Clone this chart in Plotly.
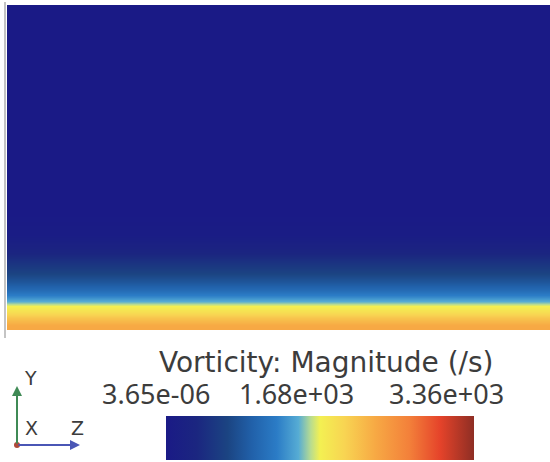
import plotly.graph_objects as go

# ---- data ----
x_coords = [0.0, 0.5, 1.0]
y_coords = [0.0, 0.015, 0.037, 0.055, 0.074, 0.086, 0.102, 0.123, 0.148,
            0.178, 0.215, 0.252, 0.292, 0.354, 0.5, 1.0]
vorticity_profile = [2300, 2280, 2080, 1850, 1680, 1480, 1280, 1040, 840,
                     640, 440, 235, 70, 10, 0.001, 3.65e-06]
cmin, cmax = 3.65e-06, 3360.0
tick_labels = ["3.65e-06", "1.68e+03", "3.36e+03"]
cbar_title = "Vorticity: Magnitude (/s)"
triad_labels = ["Y", "X", "Z"]

colorscale = [
    [0.0, "#1a1a86"], [0.10, "#1b2680"], [0.20, "#1b4482"], [0.28, "#2161aa"],
    [0.36, "#2b7cc6"], [0.43, "#56acd4"], [0.47, "#b8dc90"], [0.50, "#f3f052"],
    [0.58, "#f8d452"], [0.68, "#f7a944"], [0.79, "#f3803a"], [0.89, "#e5432a"],
    [1.0, "#8e2e24"],
]

z = [[v for _ in x_coords] for v in vorticity_profile]

W, H = 550, 462
ml, mr, mt, mb = 7, 0, 5, 132
pw, ph = W - ml - mr, H - mt - mb


def px(xp):
    return (xp - ml) / pw


def py(yp):
    return (H - mb - yp) / ph


fig = go.Figure(go.Heatmap(
    x=x_coords, y=y_coords, z=z, zsmooth="best",
    colorscale=colorscale, zmin=cmin, zmax=cmax,
    colorbar=dict(
        orientation="h", thickness=44, thicknessmode="pixels",
        len=308, lenmode="pixels",
        x=px(166), xanchor="left", y=py(460), yanchor="bottom",
        xpad=0, ypad=0, outlinewidth=0, showticklabels=False, ticks="",
    ),
))

txt_color = "#3c3c3c"


def label(text, cx, cy, size, family):
    return dict(x=px(cx), y=py(cy), xref="paper", yref="paper", text=text,
                showarrow=False, xanchor="center", yanchor="middle",
                font=dict(family=family, size=size, color=txt_color))


annotations = [label(cbar_title, 326, 362, 28, "DejaVu Sans")]
for lab, cx in zip(tick_labels, [156, 296, 446]):
    annotations.append(label(lab, cx, 393, 27, "Noto Sans"))

# axis triad
annotations += [
    dict(x=px(17), y=py(386), xref="paper", yref="paper", text="", showarrow=True,
         ax=0, ay=59, arrowhead=2, arrowsize=1, arrowwidth=2, arrowcolor="#3f8a55"),
    dict(x=px(80), y=py(445), xref="paper", yref="paper", text="", showarrow=True,
         ax=-63, ay=0, arrowhead=2, arrowsize=1, arrowwidth=2, arrowcolor="#4a56b5"),
]
for lab, (cx, cy) in zip(triad_labels, [(30, 378), (31, 428), (77, 428)]):
    annotations.append(label(lab, cx, cy, 19, "DejaVu Sans"))

shapes = [
    dict(type="line", xref="paper", yref="paper", x0=px(5), x1=px(5),
         y0=py(2), y1=py(338), line=dict(color="#c4c4c4", width=2)),
    dict(type="circle", xref="paper", yref="paper", x0=px(14), x1=px(20),
         y0=py(442), y1=py(448), fillcolor="#b04a3a", line=dict(width=0)),
]

fig.update_layout(
    width=W, height=H, margin=dict(l=ml, r=mr, t=mt, b=mb),
    paper_bgcolor="white", plot_bgcolor="white",
    xaxis=dict(range=[0, 1], visible=False, fixedrange=True),
    yaxis=dict(range=[0, 1], visible=False, fixedrange=True),
    annotations=annotations, shapes=shapes, showlegend=False,
)

fig.write_html("out.html")
